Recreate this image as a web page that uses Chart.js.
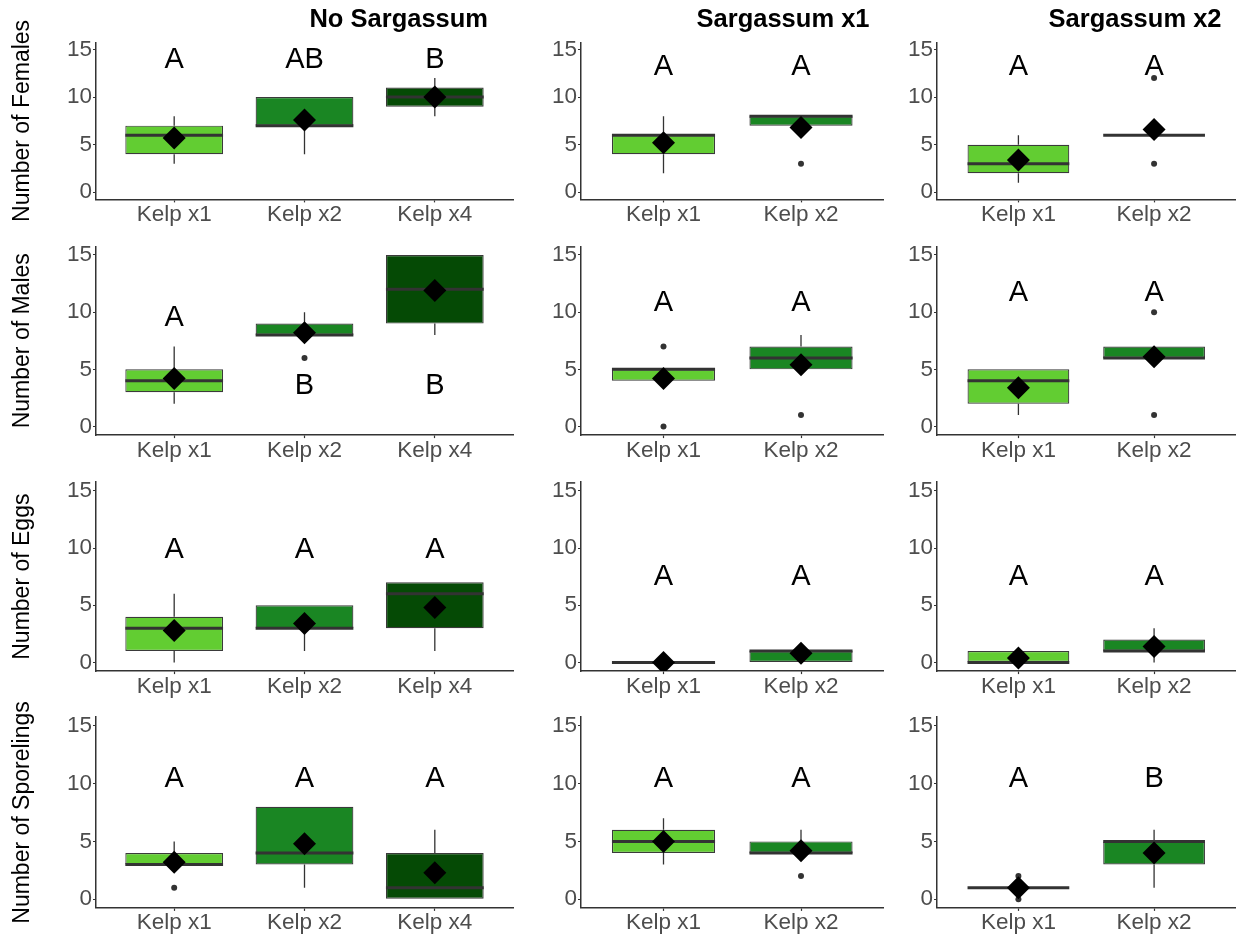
<!DOCTYPE html>
<html>
<head>
<meta charset="utf-8">
<script src="https://cdn.jsdelivr.net/npm/chart.js@4/dist/chart.umd.min.js"></script>
<style>
  html, body { margin: 0; padding: 0; background: #ffffff; }
  #grid { position: relative; width: 1247px; height: 940px; overflow: hidden; background: #ffffff; }
  #grid canvas { position: absolute; }
</style>
</head>
<body>
<div id="grid"></div>
<script>
// ---- categories and labels ----
const treatments = ['No Sargassum', 'Sargassum x1', 'Sargassum x2'];
const responses = ['Number of Females', 'Number of Males', 'Number of Eggs', 'Number of Sporelings'];
const kelp3 = ['Kelp x1', 'Kelp x2', 'Kelp x4'];
const kelp2 = ['Kelp x1', 'Kelp x2'];
const yTickValues = [0, 5, 10, 15];

// ---- box statistics: [lower whisker, Q1, median, Q3, upper whisker], one list per treatment ----
const femalesBox = [
  [[3, 4, 6, 7, 8], [4, 7, 7, 10, 10], [8, 9, 10, 11, 12]],
  [[2, 4, 6, 6, 8], [7, 7, 8, 8, 8]],
  [[1, 2, 3, 5, 6], [6, 6, 6, 6, 6]]
];
const femalesMean = [[5.7, 7.6, 10.0], [5.2, 6.8], [3.4, 6.6]];
const femalesOutliers = [[[], [], []], [[], [3]], [[], [12, 3]]];
const femalesLetters = [['A', 'AB', 'B'], ['A', 'A'], ['A', 'A']];
const femalesLetterY = [[13.9, 13.9, 13.9], [13.2, 13.2], [13.2, 13.2]];

const malesBox = [
  [[2, 3, 4, 5, 7], [8, 8, 8, 9, 10], [8, 9, 12, 15, 15]],
  [[4, 4, 5, 5, 5], [5, 5, 6, 7, 8]],
  [[1, 2, 4, 5, 5], [6, 6, 6, 7, 7]]
];
const malesMean = [[4.2, 8.2, 11.9], [4.2, 5.4], [3.4, 6.1]];
const malesOutliers = [[[], [6], []], [[7, 0], [1]], [[], [10, 1]]];
const malesLetters = [['A', 'B', 'B'], ['A', 'A'], ['A', 'A']];
const malesLetterY = [[9.5, 3.5, 3.5], [10.8, 10.8], [11.7, 11.7]];

const eggsBox = [
  [[0, 1, 3, 4, 6], [1, 3, 3, 5, 5], [1, 3, 6, 7, 7]],
  [[0, 0, 0, 0, 0], [0, 0, 1, 1, 1]],
  [[0, 0, 0, 1, 1], [0, 1, 1, 2, 3]]
];
const eggsMean = [[2.8, 3.4, 4.8], [0.0, 0.8], [0.4, 1.4]];
const eggsOutliers = [[[], [], []], [[], []], [[], []]];
const eggsLetters = [['A', 'A', 'A'], ['A', 'A'], ['A', 'A']];
const eggsLetterY = [[9.8, 9.8, 9.8], [7.5, 7.5], [7.5, 7.5]];

const sporelingsBox = [
  [[3, 3, 3, 4, 5], [1, 3, 4, 8, 8], [0, 0, 1, 4, 6]],
  [[3, 4, 5, 6, 7], [4, 4, 4, 5, 6]],
  [[1, 1, 1, 1, 1], [1, 3, 5, 5, 6]]
];
const sporelingsMean = [[3.2, 4.8, 2.3], [5.0, 4.2], [1.0, 4.0]];
const sporelingsOutliers = [[[1], [], []], [[], [2]], [[2, 0], []]];
const sporelingsLetters = [['A', 'A', 'A'], ['A', 'A'], ['A', 'B']];
const sporelingsLetterY = [[10.4, 10.4, 10.4], [10.4, 10.4], [10.4, 10.4]];

// ---- styling ----
const kelpColors = ['#62cd32', '#1a8623', '#054a05'];
const FONT = '"Liberation Sans", Arial, Helvetica, sans-serif';
const BOX_WIDTH = 0.75;

// ---- layout of the 4 x 3 panel grid (page pixels) ----
const plotCols = [[96, 513], [581, 886], [937, 1242]];
const plotRows = [[42.4, 199.4], [246.4, 435.1], [482.2, 671.1], [717.1, 907.9]];
const canvasCols = [[0, 530], [525, 895], [890, 1247]];
const canvasRows = [[0, 240], [215, 470], [450, 705], [690, 940]];
const titleRightInset = [25, 14, 14];
const titleCenterY = 20;

const rowsData = [
  { box: femalesBox, mean: femalesMean, out: femalesOutliers, letters: femalesLetters, letterY: femalesLetterY },
  { box: malesBox, mean: malesMean, out: malesOutliers, letters: malesLetters, letterY: malesLetterY },
  { box: eggsBox, mean: eggsMean, out: eggsOutliers, letters: eggsLetters, letterY: eggsLetterY },
  { box: sporelingsBox, mean: sporelingsMean, out: sporelingsOutliers, letters: sporelingsLetters, letterY: sporelingsLetterY }
];

const host = document.getElementById('grid');

function buildPanel(r, c) {
  const src = rowsData[r];
  const stats = src.box[c];
  const labels = c === 0 ? kelp3 : kelp2;
  const half = BOX_WIDTH / 2;

  const cLeft = canvasCols[c][0], cRight = canvasCols[c][1];
  const cTop = canvasRows[r][0], cBottom = canvasRows[r][1];
  const yAxisWidth = plotCols[c][0] - cLeft;
  const padRight = cRight - plotCols[c][1];
  const padTop = plotRows[r][0] - cTop;
  const xAxisHeight = cBottom - plotRows[r][1];

  const canvas = document.createElement('canvas');
  canvas.width = cRight - cLeft;
  canvas.height = cBottom - cTop;
  canvas.style.left = cLeft + 'px';
  canvas.style.top = cTop + 'px';
  host.appendChild(canvas);

  const boxData = stats.map((s, i) => ({ x: i, y: [s[1], s[3]] }));
  const whiskerData = [];
  stats.forEach((s, i) => {
    if (s[0] < s[1]) whiskerData.push({ x: i, y: s[0] }, { x: i, y: s[1] }, { x: i, y: null });
    if (s[4] > s[3]) whiskerData.push({ x: i, y: s[3] }, { x: i, y: s[4] }, { x: i, y: null });
  });
  const medianData = [];
  stats.forEach((s, i) => {
    medianData.push({ x: i - half, y: s[2] }, { x: i + half, y: s[2] }, { x: i + half, y: null });
  });
  const outlierData = [];
  src.out[c].forEach((vals, i) => vals.forEach(v => outlierData.push({ x: i, y: v })));
  const meanData = src.mean[c].map((m, i) => ({ x: i, y: m }));

  const letters = src.letters[c];
  const letterY = src.letterY[c];

  const annotations = {
    id: 'panelText',
    afterDatasetsDraw(chart) {
      const { ctx, scales } = chart;
      ctx.save();
      ctx.fillStyle = '#000000';
      ctx.textAlign = 'center';
      ctx.textBaseline = 'middle';
      ctx.font = '29px ' + FONT;
      letters.forEach((t, i) => {
        ctx.fillText(t, scales.x.getPixelForValue(i), scales.y.getPixelForValue(letterY[i]));
      });
      if (r === 0) {
        ctx.font = 'bold 25.5px ' + FONT;
        ctx.textAlign = 'right';
        ctx.fillText(treatments[c], chart.chartArea.right - titleRightInset[c], titleCenterY - cTop);
      }
      ctx.restore();
    }
  };

  const axisGrid = {
    display: true,
    drawOnChartArea: false,
    drawTicks: true,
    tickLength: 3,
    tickColor: '#333333',
    tickWidth: 1.2,
    offset: false
  };
  const axisBorder = { display: true, color: '#333333', width: 1.5 };
  const tickFont = { family: FONT, size: 22.5, lineHeight: 1 };

  new Chart(canvas, {
    type: 'bar',
    data: {
      datasets: [
        {
          type: 'scatter', data: meanData, order: 0,
          pointStyle: 'rectRot', pointRadius: 11.5, backgroundColor: '#000000',
          borderWidth: 0, pointBorderWidth: 0
        },
        {
          type: 'scatter', data: outlierData, order: 1,
          pointStyle: 'circle', pointRadius: 3, backgroundColor: '#333333',
          borderWidth: 0, pointBorderWidth: 0
        },
        {
          type: 'line', data: medianData, order: 2,
          borderColor: '#333333', borderWidth: 3, pointRadius: 0, spanGaps: false, fill: false
        },
        {
          type: 'bar', data: boxData, order: 3,
          backgroundColor: labels.map((_, i) => kelpColors[i]),
          borderColor: '#3a3a3a', borderWidth: 1.2, borderSkipped: false,
          categoryPercentage: BOX_WIDTH, barPercentage: 1.0
        },
        {
          type: 'line', data: whiskerData, order: 4,
          borderColor: '#333333', borderWidth: 1.3, pointRadius: 0, spanGaps: false, fill: false
        }
      ]
    },
    options: {
      responsive: false,
      animation: false,
      events: [],
      devicePixelRatio: 1,
      layout: { padding: { top: padTop, left: 0, right: padRight, bottom: 0 } },
      plugins: { legend: { display: false }, tooltip: { enabled: false }, title: { display: false } },
      scales: {
        x: {
          type: 'linear',
          min: -0.6,
          max: labels.length - 1 + 0.6,
          offset: false,
          afterBuildTicks: s => { s.ticks = labels.map((_, i) => ({ value: i })); },
          afterFit: s => { s.height = xAxisHeight; s.paddingLeft = 0; s.paddingRight = 0; },
          ticks: {
            callback: v => labels[v],
            color: '#4d4d4d', font: tickFont, padding: 1,
            maxRotation: 0, minRotation: 0, autoSkip: false
          },
          grid: axisGrid,
          border: axisBorder
        },
        y: {
          type: 'linear',
          min: -0.75,
          max: 15.75,
          afterBuildTicks: s => { s.ticks = yTickValues.map(v => ({ value: v })); },
          afterFit: s => { s.width = yAxisWidth; s.paddingTop = 0; s.paddingBottom = 0; },
          ticks: { color: '#4d4d4d', font: tickFont, padding: 1 },
          grid: axisGrid,
          border: axisBorder,
          title: {
            display: c === 0,
            text: responses[r],
            color: '#000000',
            font: { family: FONT, size: 23, lineHeight: 1.2 },
            padding: { top: 9, bottom: 0 }
          }
        }
      }
    },
    plugins: [annotations]
  });
}

for (let r = 0; r < responses.length; r++) {
  for (let c = 0; c < treatments.length; c++) {
    buildPanel(r, c);
  }
}
</script>
</body>
</html>
